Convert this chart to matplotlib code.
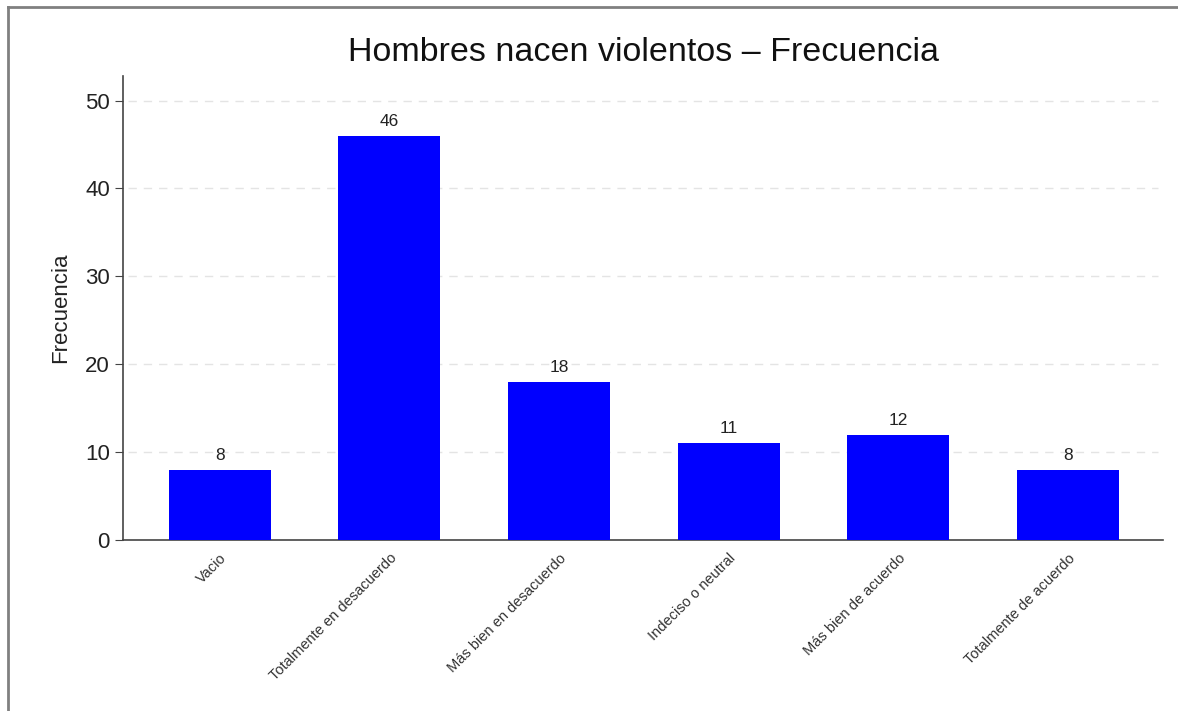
import matplotlib
matplotlib.use('Agg')
import matplotlib.pyplot as plt
from matplotlib.lines import Line2D

categorias = ['Vacio', 'Totalmente en desacuerdo', 'Más bien en desacuerdo',
              'Indeciso o neutral', 'Más bien de acuerdo', 'Totalmente de acuerdo']
frecuencias = [8, 46, 18, 11, 12, 8]
yticks = [0, 10, 20, 30, 40, 50]

plt.rcParams['font.family'] = ['Liberation Sans', 'DejaVu Sans']

fig = plt.figure(figsize=(11.78, 7.11), dpi=100)
ax = fig.add_axes([0.1044, 0.2405, 0.8829, 0.6526])

x = list(range(len(categorias)))
bars = ax.bar(x, frecuencias, width=0.6, color='#0000ff', zorder=3)
ax.bar_label(bars, labels=[str(v) for v in frecuencias], padding=5, fontsize=12.5, color='#222222')

ax.set_xlim(-0.57, 5.56)
ax.set_ylim(0, 52.8)
ax.set_yticks(yticks)
ax.tick_params(axis='y', labelsize=16, length=6, color='#444444', labelcolor='#222222')
ax.set_xticks(x)
ax.set_xticklabels(categorias, rotation=45, ha='right', rotation_mode='anchor', fontsize=10.5, color='#333333')
ax.tick_params(axis='x', length=0, pad=8)

for v in yticks[1:]:
    ax.axhline(v, xmin=0.005, xmax=0.995, color='#e4e4e4', linestyle=(0, (6, 5)), linewidth=1, zorder=1)

for s in ['top', 'right']:
    ax.spines[s].set_visible(False)
for s in ['left', 'bottom']:
    ax.spines[s].set_color('#444444')
    ax.spines[s].set_linewidth(1.2)

ax.set_ylabel('Frecuencia', fontsize=16, color='#222222', labelpad=10)
fig.text(0.546, 0.926, 'Hombres nacen violentos – Frecuencia', ha='center', va='center', fontsize=24.5, color='#111111')

# marco exterior
fig.add_artist(Line2D([0.007, 1.0], [0.990, 0.990], color='#808080', linewidth=2, transform=fig.transFigure))
fig.add_artist(Line2D([0.007, 0.007], [0.0, 0.990], color='#808080', linewidth=2, transform=fig.transFigure))

fig.savefig('out.png', dpi=100)
